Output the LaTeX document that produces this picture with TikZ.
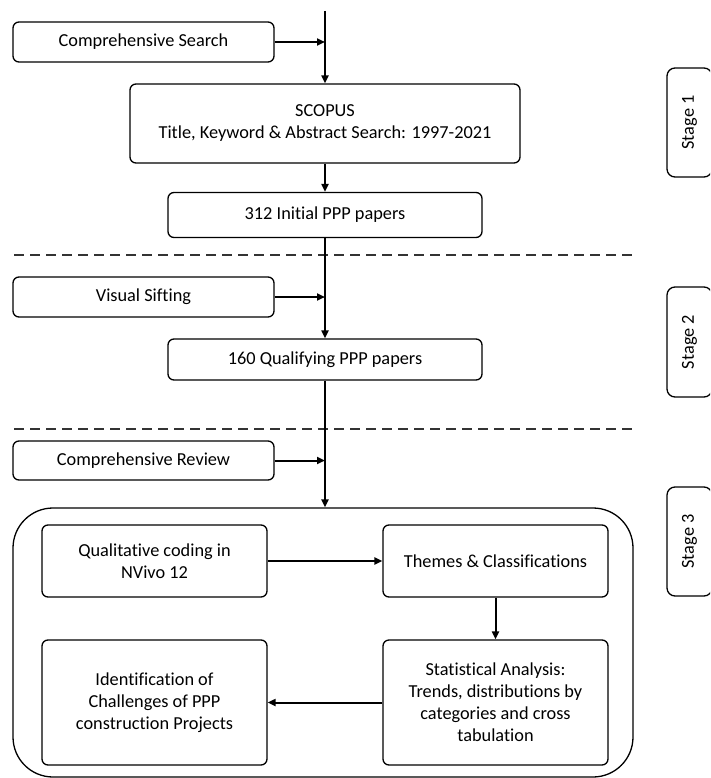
\documentclass[tikz,border=0pt]{standalone}
\usepackage{fontspec}
\setmainfont[Ligatures=NoCommon]{Carlito}
\usetikzlibrary{positioning,arrows.meta}

\tikzset{
  box/.style={draw, line width=1.3pt, rounded corners=6pt, align=center,
              inner sep=2pt, font=\fontsize{18.3}{22}\selectfont},
  stagebox/.style={box, rotate=90, rounded corners=8pt, minimum height=45pt},
  flow/.style={line width=2pt, -{Triangle[length=8pt,width=7pt]}},
  sep/.style={line width=1.5pt, draw=black!80, dash pattern=on 10pt off 6pt}
}

\begin{document}
\begin{tikzpicture}[x=1pt, y=-1pt]
        \clip (0,0) rectangle (710,778);
        \fill[white] (0,0) rectangle (710,778);

        % stage 1
        \coordinate (top) at (325,11);
        \node[box, minimum width=261pt, minimum height=40pt] (srch) at (143.5,42) {Comprehensive Search};
        \node[box, minimum width=390pt, minimum height=79pt] (scopus) at (325,123.5) {SCOPUS \\ Title, Keyword \& Abstract Search: 1997-2021};
        \node[box, minimum width=314pt, minimum height=45pt] (init) at (325,215) {312 Initial PPP papers};

        % stage 2
        \node[box, minimum width=261pt, minimum height=40pt] (sift) at (143.5,297) {Visual Sifting};
        \node[box, minimum width=314pt, minimum height=41pt] (qual) at (325,359.5) {160 Qualifying PPP papers};

        % stage 3
        \node[box, minimum width=261pt, minimum height=39pt] (review) at (143.5,460.5) {Comprehensive Review};
        \node[draw, line width=1.3pt, rounded corners=40pt, minimum width=620pt, minimum height=269pt] (big) at (323,642.5) {};
        \node[box, minimum width=225pt, minimum height=72pt] (code) at (154.5,561) {Qualitative coding in \\ NVivo 12};
        \node[box, minimum width=225pt, minimum height=72pt] (themes) at (495.5,561) {Themes \& Classifications};
        \node[box, minimum width=225pt, minimum height=125pt] (stats) at (495.5,702.5) {Statistical Analysis: \\ Trends, distributions by \\ categories and cross \\ tabulation};
        \node[box, minimum width=225pt, minimum height=125pt] (ident) at (154.5,702.5) {Identification of \\ Challenges of PPP \\ construction Projects};

        % stage labels
        \node[stagebox, minimum width=109pt] (st1) at (689.5,122.5) {Stage 1};
        \node[stagebox, minimum width=110pt] (st2) at (689.5,342) {Stage 2};
        \node[stagebox, minimum width=109pt] (st3) at (689.5,541.5) {Stage 3};

        % separators
        \draw[sep] (14,255) -- (633,255);
        \draw[sep] (14,429) -- (633,429);

        % connectors
        \draw[flow] (top) -- (scopus.north);
        \draw[flow] (srch.east) -- (srch.east -| top);
        \draw[flow] (scopus) -- (init);
        \draw[flow] (init) -- (qual);
        \draw[flow] (sift.east) -- (sift.east -| top);
        \draw[flow] (qual.south) -- (qual.south |- big.north);
        \draw[flow] (review.east) -- (review.east -| top);
        \draw[flow] (code) -- (themes);
        \draw[flow] (themes) -- (stats);
        \draw[flow] (stats) -- (ident);
    \end{tikzpicture}
\end{document}
